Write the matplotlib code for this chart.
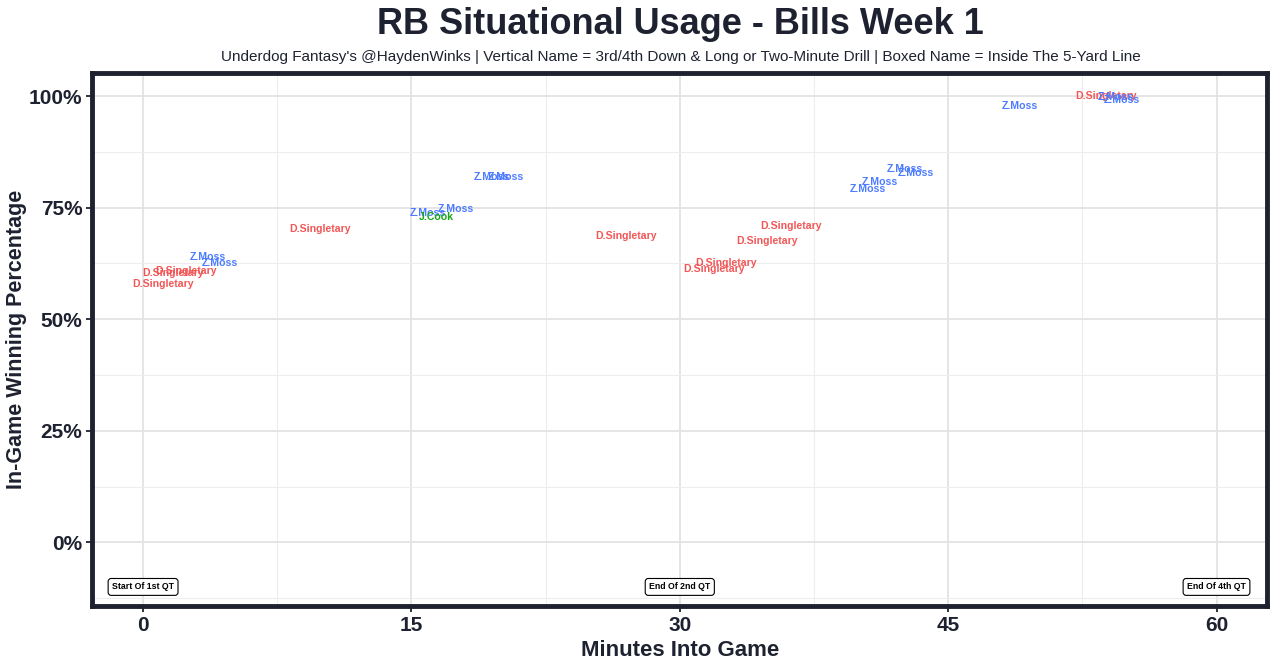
import matplotlib
matplotlib.use("Agg")
import matplotlib.pyplot as plt
from matplotlib.ticker import MultipleLocator, FuncFormatter

plt.rcParams['font.family'] = ['Liberation Sans', 'DejaVu Sans']

# play-level data: minutes into game, win probability (%)
players = ['D.Singletary', 'D.Singletary', 'D.Singletary', 'Z.Moss', 'Z.Moss',
           'D.Singletary', 'Z.Moss', 'Z.Moss', 'Z.Moss', 'Z.Moss', 'J.Cook',
           'D.Singletary', 'D.Singletary', 'D.Singletary', 'D.Singletary', 'D.Singletary',
           'Z.Moss', 'Z.Moss', 'Z.Moss', 'Z.Moss',
           'Z.Moss', 'D.Singletary', 'Z.Moss', 'Z.Moss']
minutes = [1.1, 1.7, 2.4, 3.6, 4.3,
           9.9, 19.5, 20.3, 15.9, 17.5, 16.4,
           27.0, 36.2, 34.9, 32.6, 31.9,
           42.6, 43.2, 41.2, 40.5,
           49.0, 53.8, 54.4, 54.7]
win_pct = [57.8, 60.3, 60.8, 63.9, 62.6,
           70.2, 81.8, 81.8, 73.8, 74.7, 72.9,
           68.6, 70.9, 67.5, 62.6, 61.2,
           83.6, 82.7, 80.7, 79.1,
           97.8, 100.0, 99.8, 99.2]

player_colors = {'D.Singletary': '#f25757', 'Z.Moss': '#4d7cff', 'J.Cook': '#16a516'}

qt_labels = ['Start Of 1st QT', 'End Of 2nd QT', 'End Of 4th QT']
qt_minutes = [0, 30, 60]
qt_y = -10

dark = '#1e2230'

fig = plt.figure(figsize=(12.79, 6.69), dpi=100)
ax = fig.add_axes([0.072, 0.094, 0.919, 0.797])

for name, x, y in zip(players, minutes, win_pct):
    ax.text(x, y, name, color=player_colors[name], fontsize=7.6, fontweight='bold',
            ha='center', va='center', zorder=3)

for lab, x in zip(qt_labels, qt_minutes):
    ax.text(x, qt_y, lab, fontsize=6.3, fontweight='bold', color='black',
            ha='center', va='center', zorder=4,
            bbox=dict(boxstyle='round,pad=0.45,rounding_size=0.35', fc='white',
                      ec='black', lw=0.8))

ax.set_xlim(-2.85, 62.85)
ax.set_ylim(-14.3, 105.2)
ax.xaxis.set_major_locator(MultipleLocator(15))
ax.xaxis.set_minor_locator(MultipleLocator(7.5))
ax.yaxis.set_major_locator(MultipleLocator(25))
ax.yaxis.set_minor_locator(MultipleLocator(12.5))
ax.yaxis.set_major_formatter(FuncFormatter(lambda v, p: f'{int(v)}%'))

ax.grid(which='major', color='#e3e3e3', lw=1.3, zorder=0)
ax.grid(which='minor', color='#ededed', lw=0.8, zorder=0)
ax.set_axisbelow(True)

for s in ax.spines.values():
    s.set_color(dark)
    s.set_linewidth(3.5)

ax.tick_params(which='major', length=4, width=1.3, color=dark, labelsize=15,
               labelcolor=dark, pad=3)
ax.tick_params(which='minor', length=0)
for t in ax.get_xticklabels() + ax.get_yticklabels():
    t.set_fontweight('bold')

ax.set_xlabel('Minutes Into Game', fontsize=16, fontweight='bold', color=dark, labelpad=4)
ax.set_ylabel('In-Game Winning Percentage', fontsize=15.5, fontweight='bold', color=dark, labelpad=1)

fig.text(0.532, 0.963, 'RB Situational Usage - Bills Week 1', fontsize=26,
         fontweight='bold', color=dark, ha='center', va='center')
fig.text(0.532, 0.915, "Underdog Fantasy's @HaydenWinks | Vertical Name = 3rd/4th Down & Long "
         "or Two-Minute Drill | Boxed Name = Inside The 5-Yard Line",
         fontsize=11, color=dark, ha='center', va='center')

fig.savefig('out.png', dpi=100, facecolor='white')
